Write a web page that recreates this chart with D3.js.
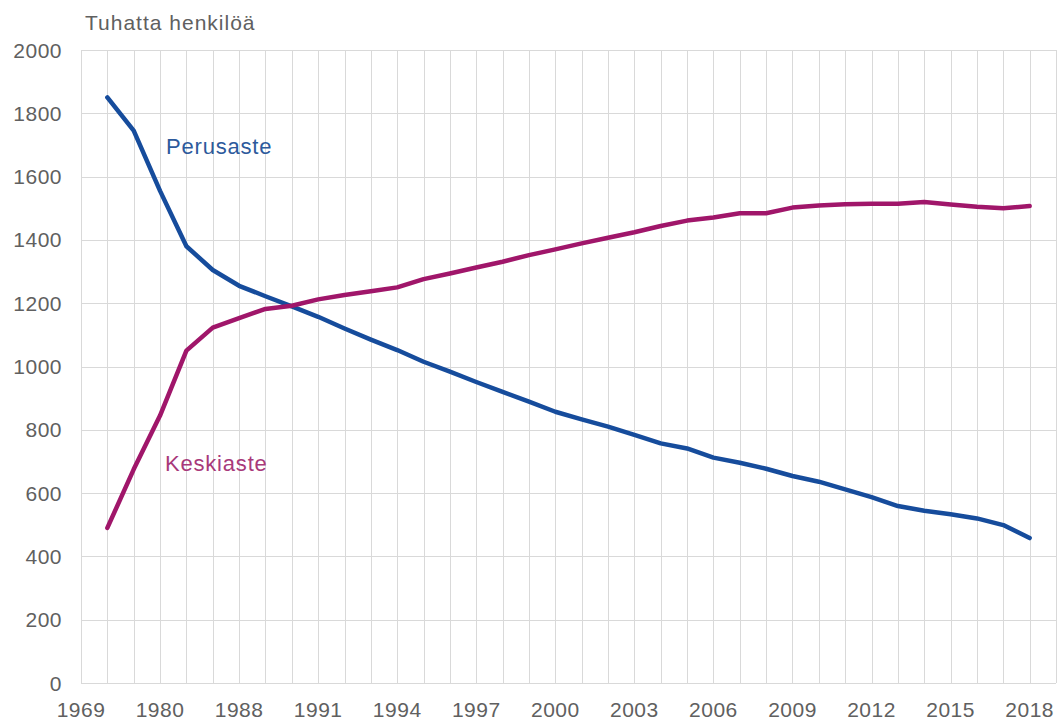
<!DOCTYPE html>
<html>
<head>
<meta charset="utf-8">
<script src="https://cdn.jsdelivr.net/npm/d3@7"></script>
<style>
  body { margin: 0; background: #fff; }
  text { font-family: "Liberation Sans", Arial, sans-serif; }
</style>
</head>
<body>
<div id="chart"></div>
<script>
// categories (one slot empty at each end of the axis)
let years = ["1970", "1975", "1980", "1985", "1987", "1988", "1989", "1990", "1991", "1992",
    "1993", "1994", "1995", "1996", "1997", "1998", "1999", "2000", "2001", "2002",
    "2003", "2004", "2005", "2006", "2007", "2008", "2009", "2010", "2011", "2012",
    "2013", "2014", "2015", "2016", "2017", "2018"];

// tuhatta henkilöä
let perusaste = [1850, 1745, 1555, 1380, 1305, 1255, 1222, 1190, 1157, 1120,
    1085, 1052, 1015, 984, 951, 920, 889, 857, 833, 810,
    784, 757, 741, 712, 696, 677, 654, 636, 612, 587,
    559, 544, 533, 520, 499, 458];
let keskiaste = [490, 675, 845, 1050, 1123, 1153, 1182, 1192, 1212, 1226,
    1238, 1250, 1276, 1294, 1313, 1331, 1352, 1370, 1389, 1407,
    1424, 1444, 1461, 1471, 1484, 1484, 1502, 1509, 1513, 1514,
    1514, 1520, 1512, 1505, 1500, 1507];

let yTicks = [0, 200, 400, 600, 800, 1000, 1200, 1400, 1600, 1800, 2000];
let xTickLabels = ["1969", "1980", "1988", "1991", "1994", "1997", "2000",
    "2003", "2006", "2009", "2012", "2015", "2018"];

let width = 1064, height = 724;
let plot = {left: 81, right: 1056, top: 50, bottom: 683};

let svg = d3.select("#chart").append("svg")
    .attr("width", width)
    .attr("height", height);

// slot index: 0 = empty, 1..n = categories, n+1 = empty
let x = d3.scaleLinear()
    .domain([0, years.length + 1])
    .range([plot.left, plot.right]);

let y = d3.scaleLinear()
    .domain([0, 2000])
    .range([plot.bottom, plot.top]);

// grid
let grid = svg.append("g").attr("class", "grid");
grid.selectAll(".vline")
    .data(d3.range(0, years.length + 2))
    .enter().append("line")
    .attr("class", "vline")
    .attr("x1", d => Math.round(x(d)) + 0.5)
    .attr("x2", d => Math.round(x(d)) + 0.5)
    .attr("y1", plot.top)
    .attr("y2", plot.bottom)
    .attr("stroke", "#d9d9d9");

grid.selectAll(".hline")
    .data(yTicks)
    .enter().append("line")
    .attr("class", "hline")
    .attr("x1", plot.left)
    .attr("x2", plot.right)
    .attr("y1", d => Math.round(y(d)) + 0.5)
    .attr("y2", d => Math.round(y(d)) + 0.5)
    .attr("stroke", "#d9d9d9");

// y labels
svg.append("g").selectAll("text")
    .data(yTicks)
    .enter().append("text")
    .attr("x", 62)
    .attr("y", d => y(d))
    .attr("dy", "0.36em")
    .attr("text-anchor", "end")
    .attr("font-size", 21)
    .attr("letter-spacing", 0.5)
    .attr("fill", "#606060")
    .text(d => d);

// x labels, every third slot
svg.append("g").selectAll("text")
    .data(xTickLabels)
    .enter().append("text")
    .attr("x", (d, i) => x(i * 3))
    .attr("y", 717)
    .attr("text-anchor", "middle")
    .attr("font-size", 21)
    .attr("letter-spacing", 0.5)
    .attr("fill", "#606060")
    .text(d => d);

// unit title
svg.append("text")
    .attr("x", 85)
    .attr("y", 30)
    .attr("font-size", 21)
    .attr("letter-spacing", 1)
    .attr("fill", "#606060")
    .text("Tuhatta henkilöä");

// lines
let line = d3.line()
    .x((d, i) => x(i + 1))
    .y(d => y(d));

let series = [
    {name: "Perusaste", values: perusaste, color: "#164c9c", textColor: "#2d5a9c", lx: 166, ly: 154},
    {name: "Keskiaste", values: keskiaste, color: "#a0166a", textColor: "#a8397a", lx: 165, ly: 471}
];

svg.append("g").selectAll("path")
    .data(series)
    .enter().append("path")
    .attr("d", d => line(d.values))
    .attr("fill", "none")
    .attr("stroke", d => d.color)
    .attr("stroke-width", 4.5)
    .attr("stroke-linejoin", "round")
    .attr("stroke-linecap", "round");

svg.append("g").selectAll("text")
    .data(series)
    .enter().append("text")
    .attr("x", d => d.lx)
    .attr("y", d => d.ly)
    .attr("font-size", 22)
    .attr("letter-spacing", 0.8)
    .attr("fill", d => d.textColor)
    .text(d => d.name);
</script>
</body>
</html>
